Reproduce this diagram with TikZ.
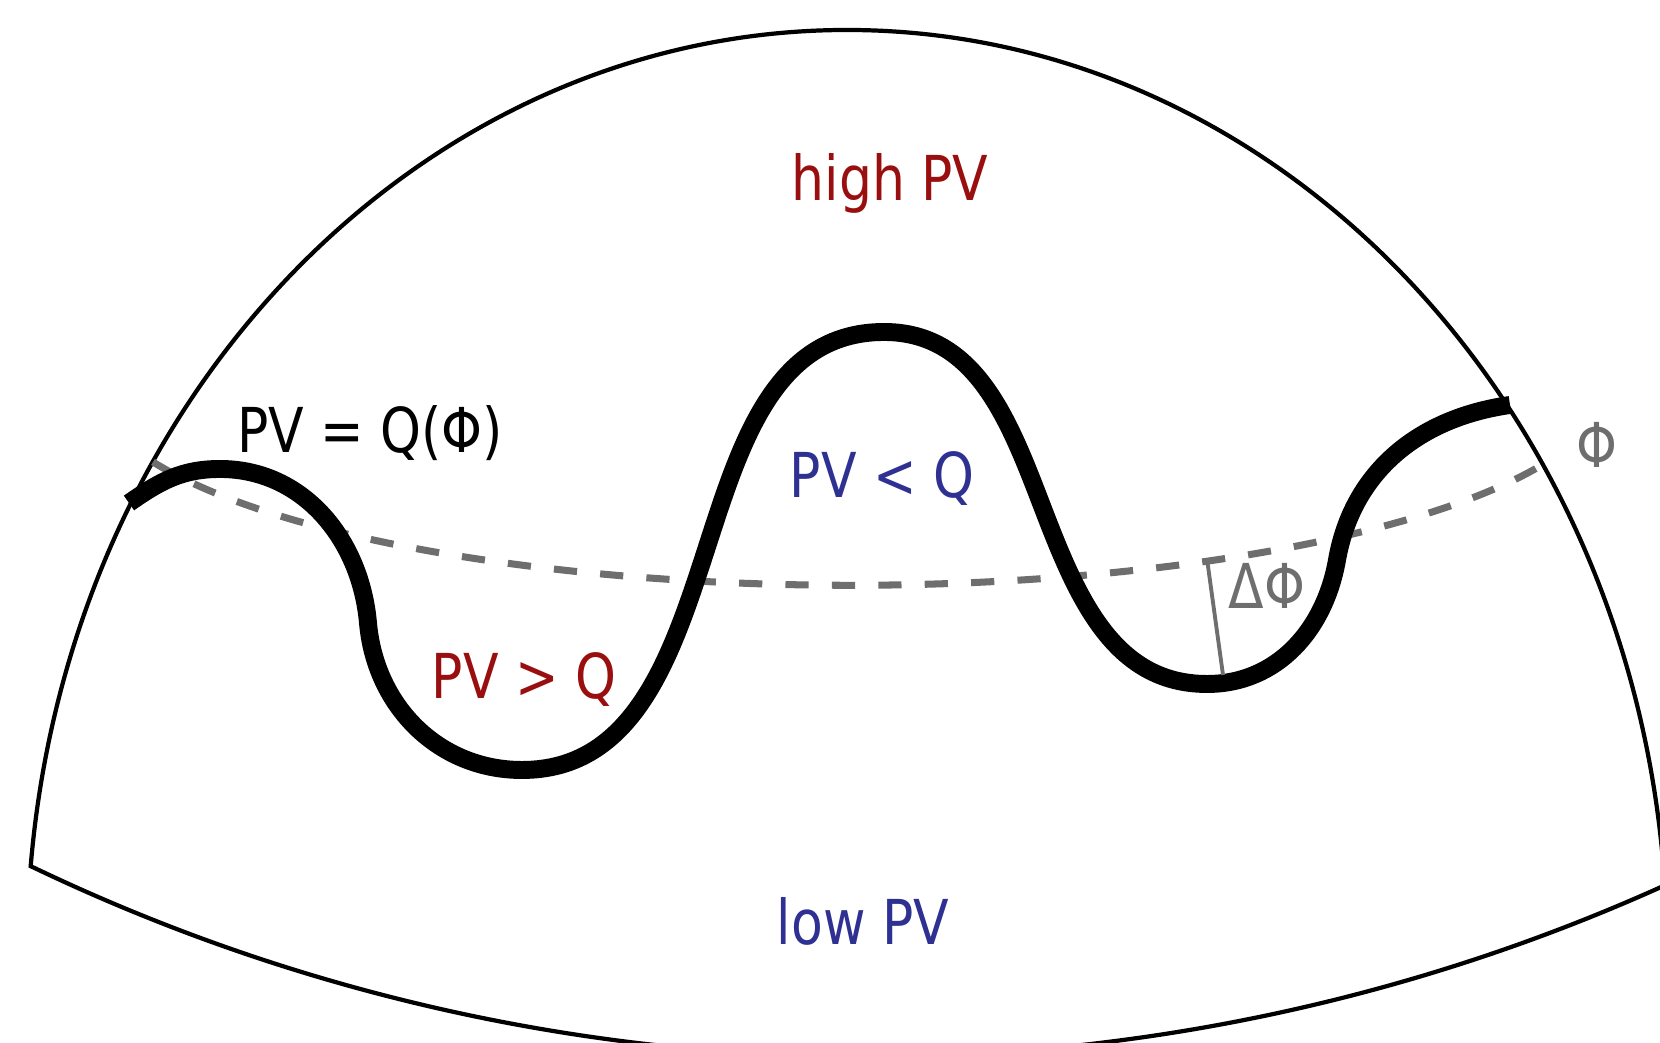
\documentclass[tikz,border=0pt]{standalone}
\usepackage{fontspec}
\setmainfont[FakeStretch=0.84]{DejaVu Sans}
\definecolor{hired}{HTML}{990F0F}
\definecolor{loblue}{HTML}{2E3192}
\definecolor{phigray}{HTML}{6E6E6E}
\tikzset{
  rim/.style={line width=1.2pt,black},
  wave/.style={line width=5.1pt,black},
  contour/.style={phigray,line width=2pt,dash pattern=on 6.6pt off 6.6pt},
  lbl/.style={font=\fontsize{17.6}{20}\selectfont,anchor=base,inner sep=0pt}
}
\begin{document}
\begin{tikzpicture}[x=0.01cm,y=0.01cm]
  \useasboundingbox (0,0) rectangle (1660,1043);
  \clip (0,0) rectangle (1660,1043);
  % the cap
  \draw[rim] (1667,90) arc[start angle=0,end angle=174.6,x radius=820,y radius=923]
    arc[start angle=244.35,end angle=300,radius=1934.9];
  % Phi contour
  \draw[contour] (153,581) arc[start angle=203.5,end angle=336,x radius=760,y radius=205];
  % PV contour
  \draw[wave] (129,540) to[out=35,in=180] (220,574) to[out=0,in=95] (368,420)
    to[out=-85,in=180] (522,273) to[out=0,in=252] (705,490)
    to[out=72,in=180] (884,711) to[out=0,in=111] (1042,537)
    to[out=-69,in=180] (1207,359) to[out=0,in=260] (1337,483)
    to[out=80,in=188] (1510,638);
  % displacement
  \coordinate (dtop) at (1207,484);
  \coordinate (dbot) at (1223,368);
  \draw[phigray,line width=1.1pt] (dtop) -- (dbot);
  % labels
  \node[lbl,text=hired] (hi) at (890,842) {high PV};
  \node[lbl] (eq) at (370,590) {PV = Q(Φ)};
  \node[lbl,text=loblue] (less) at (882,545) {PV < Q};
  \node[lbl,text=hired] (more) at (524,344) {PV > Q};
  \node[lbl,text=phigray] (dphi) at (1267,434) {ΔΦ};
  \node[lbl,text=phigray] (phi) at (1597,575) {Φ};
  \node[lbl,text=loblue] (lo) at (863,98) {low PV};
\end{tikzpicture}
\end{document}
